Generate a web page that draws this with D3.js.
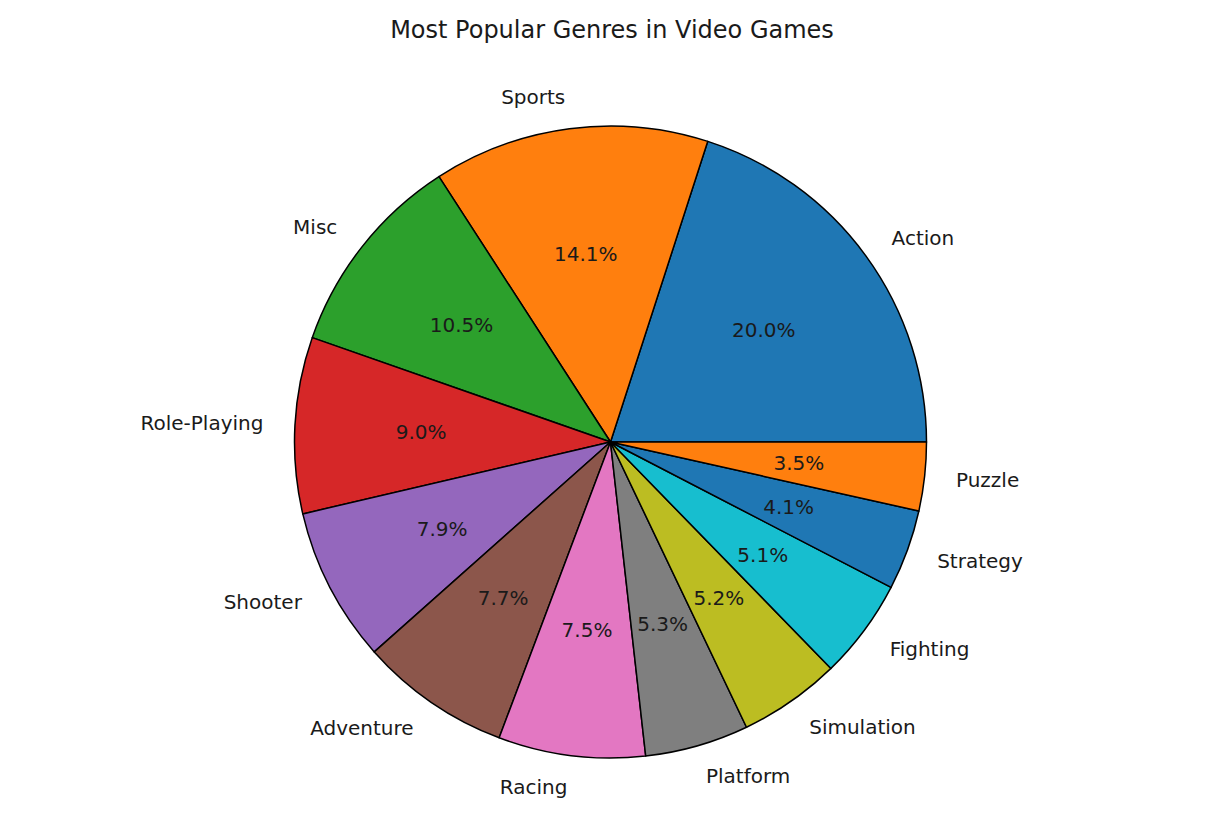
<!DOCTYPE html>
<html>
<head>
<meta charset="utf-8">
<script src="https://cdn.jsdelivr.net/npm/d3@7"></script>
<style>
  body { margin: 0; background: #fff; }
  text { font-family: "DejaVu Sans", sans-serif; fill: #1a1a1a; }
</style>
</head>
<body>
<script>
var genres = ["Action", "Sports", "Misc", "Role-Playing", "Shooter", "Adventure",
              "Racing", "Platform", "Simulation", "Fighting", "Strategy", "Puzzle"];
var shares = [20.0, 14.1, 10.5, 9.0, 7.9, 7.7, 7.5, 5.3, 5.2, 5.1, 4.1, 3.5];

// matplotlib tab10 cycle
var colors = ["#1f77b4", "#ff7f0e", "#2ca02c", "#d62728", "#9467bd",
              "#8c564b", "#e377c2", "#7f7f7f", "#bcbd22", "#17becf"];

var width = 1212, height = 822;
var cx = 610.5, cy = 442, radius = 316;

var data = genres.map(function(g, i) { return {genre: g, value: shares[i]}; });
var total = d3.sum(shares);

var svg = d3.select("body")
  .append("svg")
  .attr("width", width)
  .attr("height", height);

// title
svg.append("text")
  .attr("x", 612)
  .attr("y", 30)
  .attr("text-anchor", "middle")
  .attr("dominant-baseline", "central")
  .style("font-size", "24px")
  .text("Most Popular Genres in Video Games");

// start at 3 o'clock and go counter clockwise like matplotlib
var pie = d3.pie()
  .sort(null)
  .value(function(d) { return d.value; })
  .startAngle(Math.PI / 2)
  .endAngle(Math.PI / 2 - 2 * Math.PI);

var arc = d3.arc()
  .innerRadius(0)
  .outerRadius(radius);

var color = d3.scaleOrdinal().range(colors);

var g = svg.append("g")
  .attr("transform", "translate(" + cx + "," + cy + ")");

var arcs = pie(data);

g.selectAll(".slice")
  .data(arcs)
  .enter().append("path")
    .attr("class", "slice")
    .attr("d", arc)
    .attr("fill", function(d, i) { return color(i); })
    .attr("stroke", "#000")
    .attr("stroke-width", 1.5)
    .attr("stroke-linejoin", "round");

function mid(d) { return (d.startAngle + d.endAngle) / 2; }

// genre labels at 1.1 r
g.selectAll(".label")
  .data(arcs)
  .enter().append("text")
    .attr("class", "label")
    .attr("x", function(d) { return Math.sin(mid(d)) * radius * 1.1; })
    .attr("y", function(d) { return -Math.cos(mid(d)) * radius * 1.1; })
    .attr("text-anchor", function(d) { return Math.sin(mid(d)) > 0 ? "start" : "end"; })
    .attr("dominant-baseline", "central")
    .style("font-size", "20px")
    .text(function(d) { return d.data.genre; });

// percentages at 0.6 r
var fmt = d3.format(".1f");
g.selectAll(".pct")
  .data(arcs)
  .enter().append("text")
    .attr("class", "pct")
    .attr("x", function(d) { return Math.sin(mid(d)) * radius * 0.6; })
    .attr("y", function(d) { return -Math.cos(mid(d)) * radius * 0.6; })
    .attr("text-anchor", "middle")
    .attr("dominant-baseline", "central")
    .style("font-size", "20px")
    .text(function(d) { return fmt(d.data.value / total * 100) + "%"; });
</script>
</body>
</html>
